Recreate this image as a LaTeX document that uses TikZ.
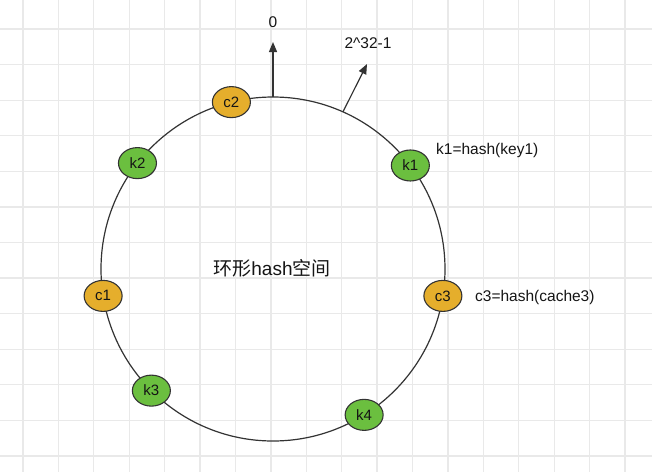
\documentclass[tikz,border=0pt]{standalone}
\usepackage{fontspec}
\setmainfont{Liberation Sans}
\newfontfamily\cjk{Noto Sans CJK SC}
\usetikzlibrary{shapes.geometric,arrows.meta}
\definecolor{gridline}{HTML}{E9E9E9}
\definecolor{gold}{HTML}{E5AE2C}
\definecolor{leaf}{HTML}{6BBF3F}
\definecolor{ink}{HTML}{333333}
\definecolor{txt}{HTML}{151515}
\begin{document}
\begin{tikzpicture}[x=1pt,y=-1pt,
  lbl/.style={font=\fontsize{15.5}{18}\selectfont, text=txt, inner sep=0},
  slot/.style={ellipse, draw=ink, line width=1.1pt, minimum width=38pt,
    minimum height=31pt, inner sep=0, text=txt, font=\fontsize{15}{18}\selectfont},
  cache/.style={slot, fill=gold},
  key/.style={slot, fill=leaf},
  ptr/.style={line width=1.2pt, draw=ink, -{Triangle[length=10pt,width=8pt]}}
]
% page and background grid
\fill[white] (0,0) rectangle (672,472);
\useasboundingbox (0,0) rectangle (672,472);
\foreach \i in {0,...,17}
  \draw[gridline, line width=1.3pt] ({23+35.41*\i},0) -- ({23+35.41*\i},472);
\foreach \j in {0,...,12}
  \draw[gridline, line width=1.3pt] (0,{29+35.58*\j}) -- (652,{29+35.58*\j});

% the hash ring
\node[circle, draw=ink, line width=1.2pt, minimum size=344pt, inner sep=0,
  outer sep=0] (ring) at (273,269) {};
\node[lbl, font=\fontsize{19}{22}\selectfont] (title) at (272,268)
  {{\cjk 环形}hash{\cjk 空间}};

% start and end of the hash range
\coordinate (zero) at (273,42);
\coordinate (top) at (367,64);
\draw[ptr] (ring.north) -- (zero);
\draw[ptr] (ring.66) -- (top);
\node[lbl] (l0) at (273,22) {0};
\node[lbl] (lmax) at (368,43) {2\textasciicircum32-1};

% caches and keys placed on the ring
\node[cache] (c2) at (ring.104.5) {c2};
\node[key]   (k1) at (ring.37.8) {k1};
\node[key]   (k2) at (ring.142.4) {k2};
\node[cache] (c1) at (ring.189.3) {c1};
\node[cache] (c3) at (ring.-9.4) {c3};
\node[key]   (k3) at (ring.225) {k3};
\node[key]   (k4) at (ring.-58.3) {k4};

\node[lbl, anchor=west] (k1def) at (436,150) {k1=hash(key1)};
\node[lbl, anchor=west] (c3def) at (475,297) {c3=hash(cache3)};
\end{tikzpicture}
\end{document}
